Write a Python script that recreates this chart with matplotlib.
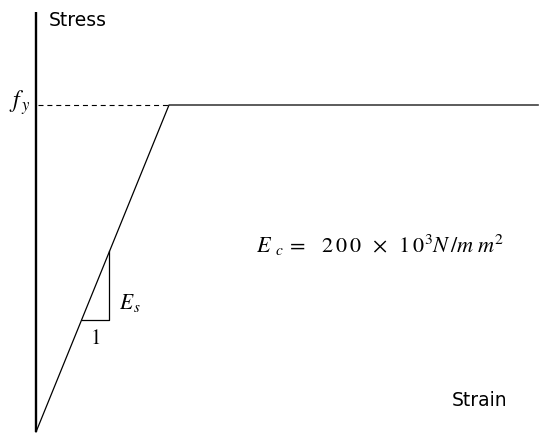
import matplotlib
matplotlib.use('Agg')
import matplotlib.pyplot as plt

# stress-strain data (elastic-perfectly plastic steel)
Es = 200e3            # N/mm2
fy = 250.0            # N/mm2
strain = [0.0, fy / Es, 0.00472]
stress = [0.0, fy, fy]

# slope triangle (strain range on elastic branch)
tri_strain = [0.00043, 0.00069]

plt.rcParams['mathtext.fontset'] = 'stix'

fig = plt.figure(figsize=(5.41, 4.33), dpi=100)
ax = fig.add_axes([0, 0, 1, 1])

# scales: yield point sits 133 px right, 327 px up from origin
sx = strain[1] / 133.0
sy = fy / 327.0
ax.set_xlim(-36 * sx, (541 - 36) * sx)
ax.set_ylim(-1 * sy, (433 - 1) * sy)
ax.axis('off')

# stress axis
ax.plot([0, 0], [0, 420 * sy], color='black', lw=1.7, solid_capstyle='butt')

# curve
ax.plot(strain, stress, color='black', lw=0.9)

# fy dashed guide
ax.plot([2 * sx, strain[1]], [fy, fy], color='black', lw=0.8, dashes=(4.5, 3.5))

# slope triangle
s0, s1 = tri_strain
ax.plot([s0, s1, s1], [Es * s0, Es * s0, Es * s1], color='black', lw=0.9)

ax.text(13 * sx, 411 * sy, 'Stress', fontsize=13.5, ha='left', va='center')
ax.text(416 * sx, 32 * sy, 'Strain', fontsize=13.5, ha='left', va='center')
ax.text(-16 * sx, fy + 2 * sy, r'$f_{\,y}$', fontsize=17, ha='center', va='center')
ax.text(s1 + 10 * sx, Es * (s0 + s1) / 2 - 17 * sy, r'$E_{\,s}$', fontsize=15.5,
        ha='left', va='center')
ax.text((s0 + s1) / 2, Es * s0 - 20 * sy, '1', fontsize=15,
        family='STIXGeneral', ha='center', va='center')
ax.text(220 * sx, 187 * sy,
        r'$E_{\;\;c}\,=\;\;\;2\,0\,0\;\;\times\;\;1\,0^3N\,/m\;m^2$',
        fontsize=16, ha='left', va='center')

fig.savefig('out.png', dpi=100)
